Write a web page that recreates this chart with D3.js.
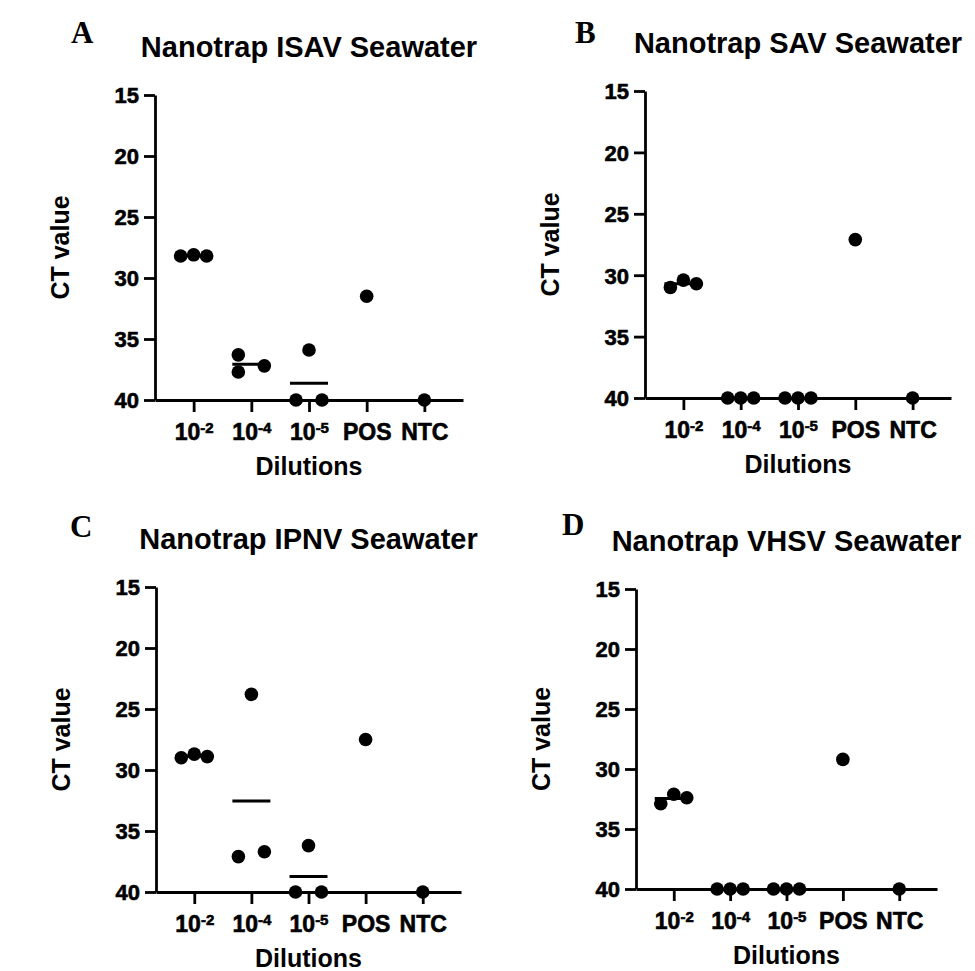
<!DOCTYPE html>
<html>
<head>
<meta charset="utf-8">
<script src="https://cdn.jsdelivr.net/npm/d3@7"></script>
<style>
  body { margin: 0; background: #fff; }
  text { font-family: "Liberation Sans", Arial, sans-serif; font-weight: bold; fill: #000; }
</style>
</head>
<body>
<script>
// categories and tick labels
var dilutions = ["1e-2", "1e-4", "1e-5", "POS", "NTC"];
var tickBase = ["10", "10", "10", "POS", "NTC"];
var tickExp = ["-2", "-4", "-5", "", ""];
var yTicks = [15, 20, 25, 30, 35, 40];

// CT values per dilution (replicates)
var isavCt = [[28.2, 28.1, 28.2], [36.3, 37.7, 37.2], [40, 35.9, 40], [31.5], [40]];
var savCt  = [[31.0, 30.4, 30.7], [40, 40, 40], [40, 40, 40], [27.1], [40]];
var ipnvCt = [[29.0, 28.7, 28.9], [37.1, 23.8, 36.7], [40, 36.2, 40], [27.5], [40]];
var vhsvCt = [[32.9, 32.1, 32.4], [40, 40, 40], [40, 40, 40], [29.2], [40]];

// scatter column of each replicate (-1 left, 0 centre, 1 right)
var isavCol = [[-1, 0, 1], [-1, -1, 1], [-1, 0, 1], [0], [0]];
var savCol  = [[-1, 0, 1], [-1, 0, 1], [-1, 0, 1], [0], [0]];
var ipnvCol = [[-1, 0, 1], [-1, 0, 1], [-1, 0, 1], [0], [0]];
var vhsvCol = [[-1, 0, 1], [-1, 0, 1], [-1, 0, 1], [0], [0]];

var letters = ["A", "B", "C", "D"];
var titles = ["Nanotrap ISAV Seawater", "Nanotrap SAV Seawater", "Nanotrap IPNV Seawater", "Nanotrap VHSV Seawater"];
var cts = [isavCt, savCt, ipnvCt, vhsvCt];
var cols = [isavCol, savCol, ipnvCol, vhsvCol];

// plot boxes (pixels)
var boxes = [
  {left: 155, right: 463, top: 95, bottom: 400, lx: 71, ly: 43},
  {left: 645, right: 951, top: 91, bottom: 398, lx: 575, ly: 43},
  {left: 156, right: 461, top: 587, bottom: 892, lx: 70, ly: 537},
  {left: 636, right: 937, top: 589, bottom: 889, lx: 562, ly: 535}
];

var svg = d3.select("body").append("svg")
    .attr("width", 975)
    .attr("height", 971);

boxes.forEach(function(b, p) {
  var g = svg.append("g");

  var y = d3.scaleLinear().domain([15, 40]).range([b.top, b.bottom]);
  var x = d3.scalePoint().domain(dilutions).range([b.left, b.right]).padding(0.67);
  var jit = d3.scaleLinear().domain([-1, 1]).range([-13, 13]);

  // y axis
  var ya = g.append("g")
      .attr("transform", "translate(" + b.left + ",0)")
      .call(d3.axisLeft(y).tickValues(yTicks).tickSize(11).tickSizeOuter(0).tickPadding(5));
  ya.selectAll("path, line").attr("stroke", "#000").attr("stroke-width", 2.8);
  ya.selectAll("text")
    .style("font-size", "22px")
    .style("stroke", "#000")
    .style("stroke-width", 0.6)
    .attr("dy", "0.36em");

  // x axis
  var xa = g.append("g")
      .attr("transform", "translate(0," + b.bottom + ")")
      .call(d3.axisBottom(x).tickSize(12).tickSizeOuter(0).tickFormat(""));
  xa.selectAll("path, line").attr("stroke", "#000").attr("stroke-width", 2.8);
  xa.selectAll("text")
    .attr("y", 40)
    .attr("dy", null)
    .style("font-size", "23px")
    .style("stroke", "#000")
    .style("stroke-width", 0.6)
    .each(function(d, i) {
      var t = d3.select(this);
      t.append("tspan").text(tickBase[i]);
      if (tickExp[i]) {
        t.append("tspan")
          .attr("dy", "-0.45em")
          .style("font-size", "15px")
          .text(tickExp[i]);
      }
    });

  // axis titles
  g.append("text")
    .attr("x", (b.left + b.right) / 2)
    .attr("y", b.bottom + 75)
    .attr("text-anchor", "middle")
    .style("font-size", "25px")
    .text("Dilutions");

  g.append("text")
    .attr("transform", "translate(" + (b.left - 86) + "," + ((b.top + b.bottom) / 2) + ") rotate(-90)")
    .attr("text-anchor", "middle")
    .style("font-size", "25px")
    .text("CT value");

  // chart title and panel letter
  g.append("text")
    .attr("x", (b.left + b.right) / 2)
    .attr("y", b.top - 38)
    .attr("text-anchor", "middle")
    .style("font-size", "29px")
    .text(titles[p]);

  g.append("text")
    .attr("x", b.lx)
    .attr("y", b.ly)
    .style("font-family", "'Liberation Serif', 'Times New Roman', serif")
    .style("font-size", "31px")
    .text(letters[p]);

  // points
  var pts = [];
  cts[p].forEach(function(vals, gi) {
    vals.forEach(function(v, k) {
      pts.push({group: dilutions[gi], ct: v, col: cols[p][gi][k]});
    });
  });

  g.selectAll(".dot")
    .data(pts).enter()
    .append("circle")
      .attr("class", "dot")
      .attr("cx", function(d) { return x(d.group) + jit(d.col); })
      .attr("cy", function(d) { return y(d.ct); })
      .attr("r", 6.8)
      .attr("fill", "#000");

  // mean lines (groups with replicates)
  var means = cts[p].map(function(vals, gi) {
    return {group: dilutions[gi], mean: d3.mean(vals), n: vals.length};
  }).filter(function(d) { return d.n > 1; });

  g.selectAll(".mean")
    .data(means).enter()
    .append("line")
      .attr("class", "mean")
      .attr("x1", function(d) { return x(d.group) - 19; })
      .attr("x2", function(d) { return x(d.group) + 19; })
      .attr("y1", function(d) { return y(d.mean); })
      .attr("y2", function(d) { return y(d.mean); })
      .attr("stroke", "#000")
      .attr("stroke-width", 3);
});
</script>
</body>
</html>
